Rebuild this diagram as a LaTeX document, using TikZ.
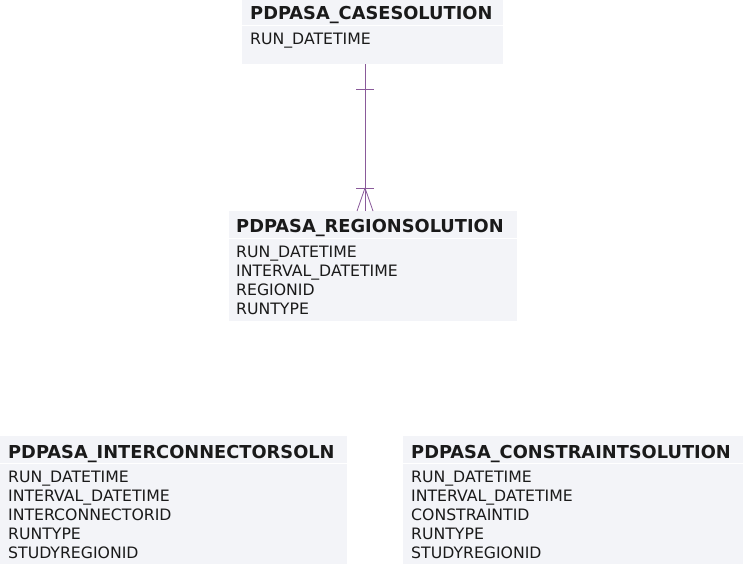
\documentclass[tikz,border=0pt]{standalone}
\usepackage{fontspec}
\setmainfont{DejaVu Sans}
\definecolor{tblfill}{HTML}{F3F4F8}
\definecolor{relcol}{HTML}{8A5A9A}
\definecolor{txt}{HTML}{1A1A1A}
\tikzset{
  tbl/.style={fill=tblfill, draw=none, inner sep=0pt, anchor=north west},
  sepline/.style={draw=white, line width=1pt},
  hdr/.style={anchor=base west, inner sep=0pt, font=\fontsize{17.8}{20}\selectfont\bfseries, text=txt},
  fld/.style={anchor=base west, inner sep=0pt, font=\fontsize{15.7}{19}\selectfont, text=txt},
  rel/.style={draw=relcol, line width=0.8pt},
}
\begin{document}
\begin{tikzpicture}[x=1pt,y=-1pt]
\useasboundingbox (0,0) rectangle (743,564);
% PDPASA_CASESOLUTION
\node[tbl, minimum width=261pt, minimum height=64pt] (case) at (242,0) {};
\draw[sepline] (case.north west |- 0,26) -- (case.north east |- 0,26);
\node[hdr] (caseh) at (250,19.5) {PDPASA\_CASESOLUTION};
\node[fld] (case1) at (250,44.7) {RUN\_DATETIME};
% PDPASA_REGIONSOLUTION
\node[tbl, minimum width=288pt, minimum height=110pt] (region) at (229,211) {};
\draw[sepline] (region.north west |- 0,238) -- (region.north east |- 0,238);
\node[hdr] (regionh) at (236,232.5) {PDPASA\_REGIONSOLUTION};
\node[fld] (region1) at (236,257.7) {RUN\_DATETIME};
\node[fld] (region2) at (236,276.7) {INTERVAL\_DATETIME};
\node[fld] (region3) at (236,295.7) {REGIONID};
\node[fld] (region4) at (236,314.7) {RUNTYPE};
% PDPASA_INTERCONNECTORSOLN
\node[tbl, minimum width=347pt, minimum height=128pt] (ic) at (0,436) {};
\draw[sepline] (ic.north west |- 0,463) -- (ic.north east |- 0,463);
\node[hdr] (ich) at (8,458.5) {PDPASA\_INTERCONNECTORSOLN};
\node[fld] (ic1) at (8,482.7) {RUN\_DATETIME};
\node[fld] (ic2) at (8,501.7) {INTERVAL\_DATETIME};
\node[fld] (ic3) at (8,520.7) {INTERCONNECTORID};
\node[fld] (ic4) at (8,539.7) {RUNTYPE};
\node[fld] (ic5) at (8,558.7) {STUDYREGIONID};
% PDPASA_CONSTRAINTSOLUTION
\node[tbl, minimum width=340pt, minimum height=128pt] (cs) at (403,436) {};
\draw[sepline] (cs.north west |- 0,463) -- (cs.north east |- 0,463);
\node[hdr] (csh) at (411,458.5) {PDPASA\_CONSTRAINTSOLUTION};
\node[fld] (cs1) at (411,482.7) {RUN\_DATETIME};
\node[fld] (cs2) at (411,501.7) {INTERVAL\_DATETIME};
\node[fld] (cs3) at (411,520.7) {CONSTRAINTID};
\node[fld] (cs4) at (411,539.7) {RUNTYPE};
\node[fld] (cs5) at (411,558.7) {STUDYREGIONID};
% relationship
\coordinate (rx) at (365,0);
\coordinate (foot) at (365,188);
\draw[rel] (case.south -| rx) -- (region.north -| rx);
\draw[rel] (356,89) -- (374,89);
\draw[rel] (356,188) -- (374,188);
\draw[rel] (foot) -- (region.north -| 357,0);
\draw[rel] (foot) -- (region.north -| 373,0);
\end{tikzpicture}
\end{document}
